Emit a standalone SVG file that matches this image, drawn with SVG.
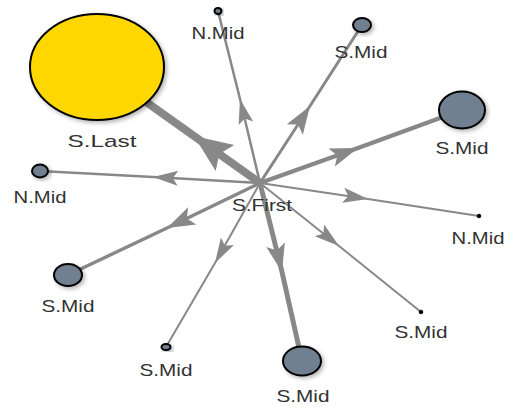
<svg xmlns="http://www.w3.org/2000/svg" width="510" height="411" viewBox="0 0 510 411">
<style>
.edge{fill:none;stroke:#888;stroke-linecap:butt}
.node{stroke:#000;stroke-width:2;fill:#708090;filter:url(#sh)}
.dot{fill:#000;stroke:#000;stroke-width:1}
.lbl{font-family:"Liberation Sans",Arial,sans-serif;font-size:17px;fill:#333;text-anchor:middle}
</style>
<defs>
<filter id="sh" x="-30%" y="-30%" width="160%" height="160%">
<feDropShadow dx="2" dy="2" stdDeviation="2" flood-color="#000" flood-opacity="0.3"/>
</filter>
<marker id="aS" markerUnits="userSpaceOnUse" viewBox="-30 -10 35 20" markerWidth="35" markerHeight="20" refX="0" refY="0" orient="auto" overflow="visible">
<path d="M0,0 L-25,-7.5 L-20,0 L-25,7.5 Z" fill="#888"/>
</marker>
<marker id="aM" markerUnits="userSpaceOnUse" viewBox="-32 -12 37 24" markerWidth="37" markerHeight="24" refX="0" refY="0" orient="auto" overflow="visible">
<path d="M0,0 L-28,-9.5 L-22,0 L-28,9.5 Z" fill="#888"/>
</marker>
<marker id="aL" markerUnits="userSpaceOnUse" viewBox="-42 -20 47 40" markerWidth="47" markerHeight="40" refX="0" refY="0" orient="auto" overflow="visible">
<path d="M0,0 L-38,-16 L-31,0 L-38,16 Z" fill="#888"/>
</marker>
</defs>
<rect width="510" height="411" fill="#fff"/>
<g id="edges">
<polyline class="edge" points="260,183 194,136 97,67" stroke-width="8" marker-mid="url(#aL)"/>
<polyline class="edge" points="260,183 240,99 218,11" stroke-width="2.5" marker-mid="url(#aS)"/>
<polyline class="edge" points="260,183 310,106 362,25" stroke-width="3" marker-mid="url(#aM)"/>
<polyline class="edge" points="260,183 358,148 462,110" stroke-width="4.5" marker-mid="url(#aM)"/>
<polyline class="edge" points="260,183 368,199 479,216" stroke-width="2" marker-mid="url(#aS)"/>
<polyline class="edge" points="260,183 339,246 421,312" stroke-width="2" marker-mid="url(#aS)"/>
<polyline class="edge" points="260,183 282,272 302,361" stroke-width="5" marker-mid="url(#aM)"/>
<polyline class="edge" points="260,183 215,263 166,347" stroke-width="2" marker-mid="url(#aS)"/>
<polyline class="edge" points="260,183 167,228 68,275" stroke-width="3.5" marker-mid="url(#aM)"/>
<polyline class="edge" points="260,183 153,177 40,171" stroke-width="2.5" marker-mid="url(#aS)"/>
</g>
<g id="n-first">
<text class="lbl" x="262" y="211" textLength="60" lengthAdjust="spacingAndGlyphs">S.First</text>
</g>
<g id="n-last">
<ellipse class="node" cx="97" cy="67" rx="67" ry="53" style="fill:#FFD700"/>
<text class="lbl" x="102" y="147" textLength="69" lengthAdjust="spacingAndGlyphs">S.Last</text>
</g>
<g id="n-nmid-top">
<ellipse class="node" cx="218" cy="11" rx="3.5" ry="3"/>
<text class="lbl" x="218" y="39" textLength="53" lengthAdjust="spacingAndGlyphs">N.Mid</text>
</g>
<g id="n-smid-tr">
<ellipse class="node" cx="362" cy="25" rx="9" ry="7"/>
<text class="lbl" x="361" y="58" textLength="53" lengthAdjust="spacingAndGlyphs">S.Mid</text>
</g>
<g id="n-smid-rb">
<ellipse class="node" cx="462" cy="110" rx="23" ry="18.5"/>
<text class="lbl" x="462" y="154" textLength="53" lengthAdjust="spacingAndGlyphs">S.Mid</text>
</g>
<g id="n-nmid-left">
<ellipse class="node" cx="40" cy="171" rx="8" ry="6.5"/>
<text class="lbl" x="40" y="203" textLength="53" lengthAdjust="spacingAndGlyphs">N.Mid</text>
</g>
<g id="n-nmid-right">
<circle class="dot" cx="479" cy="216" r="1.8"/>
<text class="lbl" x="478" y="244" textLength="53" lengthAdjust="spacingAndGlyphs">N.Mid</text>
</g>
<g id="n-smid-rl">
<circle class="dot" cx="421" cy="312" r="1.8"/>
<text class="lbl" x="421" y="338" textLength="53" lengthAdjust="spacingAndGlyphs">S.Mid</text>
</g>
<g id="n-smid-bottom">
<ellipse class="node" cx="302" cy="361" rx="19" ry="14.5"/>
<text class="lbl" x="303" y="402" textLength="53" lengthAdjust="spacingAndGlyphs">S.Mid</text>
</g>
<g id="n-smid-lb">
<ellipse class="node" cx="68" cy="275" rx="14" ry="11"/>
<text class="lbl" x="68" y="312" textLength="53" lengthAdjust="spacingAndGlyphs">S.Mid</text>
</g>
<g id="n-smid-small">
<ellipse class="node" cx="166" cy="347" rx="4.5" ry="3"/>
<text class="lbl" x="166" y="376" textLength="53" lengthAdjust="spacingAndGlyphs">S.Mid</text>
</g>
</svg>
